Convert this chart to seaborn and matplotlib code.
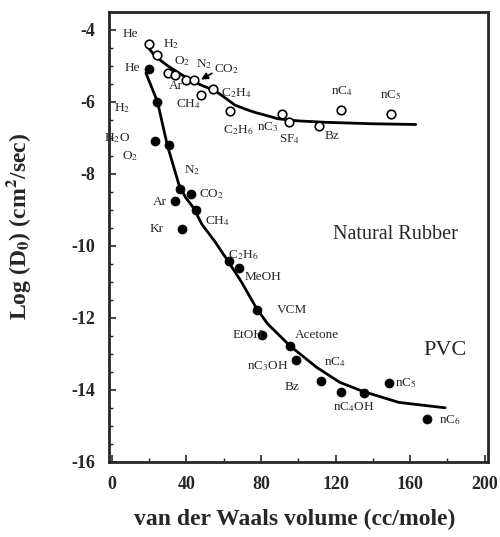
import pandas as pd
import seaborn as sns
import numpy as np
import matplotlib.pyplot as plt

# Natural rubber (open circles)
nr_gas = ["He", "H2", "O2a", "O2b", "Ar", "N2", "CH4", "C2H4", "C2H6", "nC3", "SF4", "Bz", "nC4", "nC5"]
nr_vol = [20, 24.3, 30.2, 33.9, 39.7, 43.9, 48, 54.5, 63.5, 91.5, 95, 111, 123, 150]
nr_logd = [-4.4, -4.7, -5.2, -5.26, -5.4, -5.39, -5.8, -5.64, -6.25, -6.33, -6.57, -6.68, -6.23, -6.33]

# Natural rubber fitted curve
nr_fit_vol = [18.5, 23.6, 30, 36, 43, 49, 55.4, 60.5, 66, 72, 77.2, 85, 89, 100, 115, 140, 163]
nr_fit_logd = [-4.43, -4.75, -5.0, -5.2, -5.42, -5.56, -5.69, -5.88, -6.09, -6.21, -6.3, -6.41, -6.47, -6.53, -6.57, -6.61, -6.63]

# PVC (filled circles)
pvc_gas = ["He", "H2", "H2O", "O2", "N2", "CO2", "Ar", "CH4", "Kr", "C2H6", "MeOH", "VCM", "EtOH",
           "Acetone", "nC3OH", "Bz", "nC4", "nC4OH", "nC5", "nC6"]
pvc_vol = [20, 24.3, 23.3, 30.7, 36.5, 42.3, 33.9, 45, 37.6, 63, 68.3, 77.8, 80.4,
           95.8, 98.9, 112, 122.8, 135.4, 148.7, 169.3]
pvc_logd = [-5.1, -6.0, -7.1, -7.2, -8.42, -8.56, -8.75, -9.0, -9.52, -10.43, -10.62, -11.77, -12.47,
            -12.77, -13.17, -13.76, -14.05, -14.1, -13.8, -14.8]

# PVC fitted curve
pvc_fit_vol = [18.3, 24.5, 29.8, 36, 39.5, 43.9, 48.3, 55.4, 62.4, 69.5, 77.4, 83.6, 95.8, 110, 122.2, 135, 154, 178.8]
pvc_fit_logd = [-5.2, -6.0, -7.21, -8.3, -8.65, -8.95, -9.4, -9.89, -10.43, -11.0, -11.72, -12.17, -12.79, -13.38,
                -13.79, -14.05, -14.35, -14.5]

# labels (text, x, y)
nr_labels = [("He", 10, -4.13), ("H$_2$", 31.7, -4.4), ("O$_2$", 37.6, -4.88), ("N$_2$", 49.5, -4.94),
             ("CO$_2$", 61.5, -5.1), ("Ar", 34.4, -5.55), ("CH$_4$", 41.3, -6.06), ("C$_2$H$_4$", 66.7, -5.77),
             ("C$_2$H$_6$", 67.7, -6.79), ("nC$_3$", 83.6, -6.7), ("SF$_4$", 95.2, -7.03), ("Bz", 118, -6.95),
             ("nC$_4$", 123.3, -5.69), ("nC$_5$", 149.7, -5.82)]
pvc_labels = [("He", 11.1, -5.07), ("H$_2$", 5.3, -6.17), ("H$_2$O", 2.6, -7.0), ("O$_2$", 10, -7.51),
              ("N$_2$", 42.9, -7.91), ("CO$_2$", 53.5, -8.56), ("Ar", 25.9, -8.77), ("CH$_4$", 56.5, -9.3),
              ("Kr", 23.8, -9.52), ("C$_2$H$_6$", 70.4, -10.25), ("MeOH", 81, -10.86), ("VCM", 96.8, -11.77),
              ("EtOH", 73, -12.47), ("Acetone", 110, -12.47), ("nC$_3$OH", 83.6, -13.33), ("nC$_4$", 119.6, -13.22),
              ("Bz", 96.8, -13.92), ("nC$_4$OH", 130, -14.48), ("nC$_5$", 157.7, -13.81), ("nC$_6$", 181.5, -14.83)]

sns.set_style("ticks")
plt.rcParams['font.family'] = ['Liberation Serif', 'DejaVu Serif']
plt.rcParams['mathtext.fontset'] = 'stix'
plt.rcParams['axes.unicode_minus'] = False

nr = pd.DataFrame({"vol": nr_vol, "logd": nr_logd})
pvc = pd.DataFrame({"vol": pvc_vol, "logd": pvc_logd})
nr_fit = pd.DataFrame({"vol": nr_fit_vol, "logd": nr_fit_logd})
pvc_fit = pd.DataFrame({"vol": pvc_fit_vol, "logd": pvc_fit_logd})

fig, ax = plt.subplots(figsize=(5.0, 5.37), dpi=100)
plt.subplots_adjust(left=0.218, right=0.975, top=0.978, bottom=0.14)

sns.lineplot(data=nr_fit, x="vol", y="logd", ax=ax, color="black", linewidth=2.0, sort=False)
sns.lineplot(data=pvc_fit, x="vol", y="logd", ax=ax, color="black", linewidth=2.0, sort=False)
sns.scatterplot(data=nr, x="vol", y="logd", ax=ax, marker="o", s=38, facecolor="white",
                edgecolor="black", linewidth=1.2, zorder=3)
sns.scatterplot(data=pvc, x="vol", y="logd", ax=ax, marker="o", s=42, color="black",
                edgecolor="black", zorder=3)

for txt, x, y in nr_labels + pvc_labels:
    ax.text(x, y, txt, fontsize=9.5, ha="center", va="center")

ax.annotate("", xy=(46.6, -5.42), xytext=(55, -5.17),
            arrowprops=dict(arrowstyle="-|>", color="black", lw=1.2))

ax.text(151.9, -9.68, "Natural Rubber", fontsize=14.5, ha="center", va="center")
ax.text(178.5, -12.9, "PVC", fontsize=16, ha="center", va="center")

ax.set_xlim(-1.5, 201.5)
ax.set_ylim(-16, -4)
ax.set_xticks(np.arange(0, 201, 40))
ax.set_xticks(np.arange(0, 201, 20), minor=True)
ax.set_yticks(np.arange(-16, -3, 2))
ax.set_yticks(np.arange(-16, -3, 0.5), minor=True)
ax.tick_params(direction="in", length=5, width=1.2, labelsize=13, pad=10)
ax.tick_params(which="minor", direction="in", length=3, width=1)
for lab in ax.get_xticklabels() + ax.get_yticklabels():
    lab.set_fontweight("bold")
for sp in ax.spines.values():
    sp.set_linewidth(2)

ax.set_xlabel("van der Waals volume (cc/mole)", fontsize=17, fontweight="bold")
ax.set_ylabel("Log (D$_\\mathbf{0}$) (cm$^\\mathbf{2}$/sec)", fontsize=17, fontweight="bold")
ax.xaxis.set_label_coords(0.49, -0.105)
ax.yaxis.set_label_coords(-0.2, 0.524)

plt.savefig("out.png", dpi=100)
